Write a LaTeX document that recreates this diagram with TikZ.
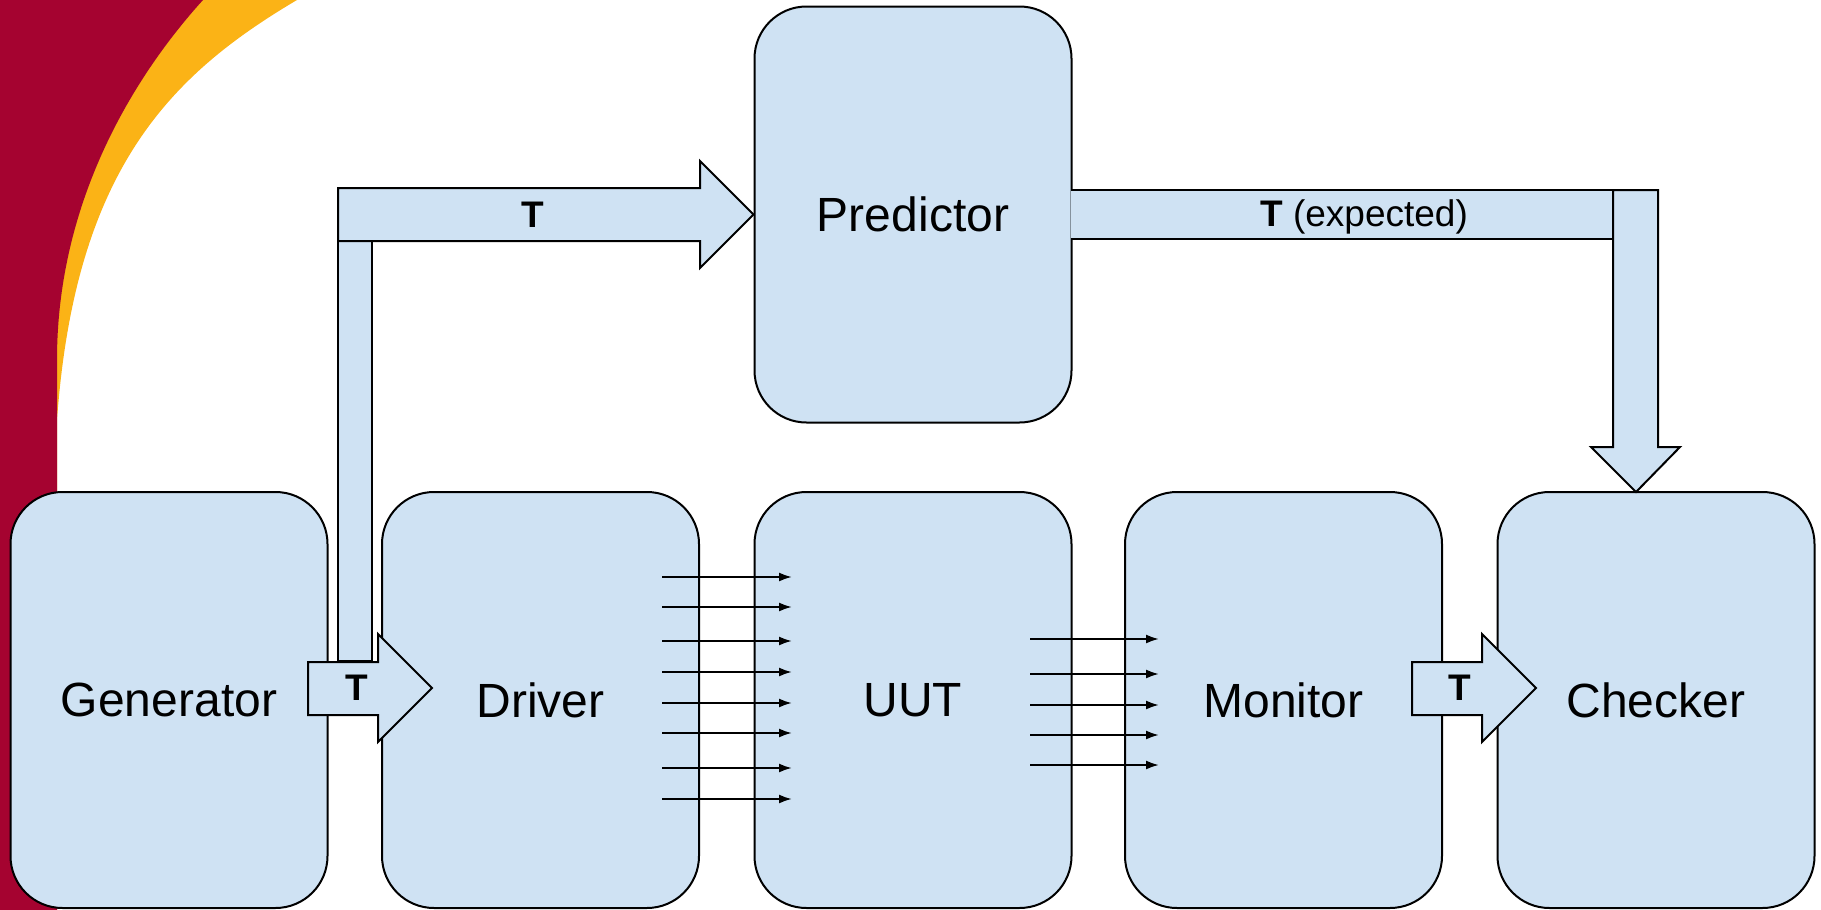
\documentclass[tikz,border=0pt]{standalone}
\usepackage{fontspec}
\setmainfont{Liberation Sans}
\usetikzlibrary{arrows.meta}
\definecolor{bluefill}{HTML}{CFE2F3}
\definecolor{cardinal}{HTML}{A50330}
\definecolor{gold}{HTML}{FBB316}
\tikzset{
  block/.style={draw=black, line width=1pt, fill=bluefill, rounded corners=26pt,
    minimum width=158.5pt, minimum height=208pt, inner sep=0pt,
    font=\fontsize{24}{28}\selectfont},
  bigarrow/.style={draw=black, line width=1pt, fill=bluefill, line join=miter},
  tlabel/.style={font=\fontsize{18.5}{22}\selectfont\bfseries, inner sep=0pt},
  elabel/.style={font=\fontsize{18.5}{22}\selectfont, inner sep=0pt},
  sig/.style={line width=1pt, -{Latex[length=6.5pt,width=4.5pt]}},
}
\begin{document}
\begin{tikzpicture}[x=0.5pt,y=-0.5pt]
\useasboundingbox (0,0) rectangle (1821,910);
% background decoration
\fill[gold] (0,0) -- (297,0) .. controls (170,75) and (75,170) .. (57,420) -- (57,910) -- (0,910) -- cycle;
\fill[cardinal] (0,0) -- (203,0) .. controls (135,75) and (57,200) .. (57,360) -- (57,910) -- (0,910) -- cycle;
% blocks
\node[block] (pred) at (913,214.5) {Predictor};
\node[block] (gen) at (169,700) {Generator};
\node[block] (drv) at (540.5,700) {Driver};
\node[block] (uut) at (913,700) {UUT};
\node[block] (mon) at (1283.5,700) {Monitor};
\node[block] (chk) at (1656,700) {Checker};
% generator -> predictor thick arrow
\draw[bigarrow] (338,241) rectangle (372,661);
\draw[bigarrow] (338,188) -- (700,188) -- (700,161) -- (pred.west) -- (700,268) -- (700,241) -- (338,241) -- cycle;
\node[tlabel] (t1) at (533,215) {T};
% generator -> driver
\draw[bigarrow] (308,662) -- (378,662) -- (378,634) -- (432,688) -- (378,742) -- (378,715) -- (308,715) -- cycle;
\node[tlabel] (t2) at (357,688) {T};
% monitor -> checker
\draw[bigarrow] (1412,662) -- (1482,662) -- (1482,634) -- (1536,688) -- (1482,742) -- (1482,715) -- (1412,715) -- cycle;
\node[tlabel] (t3) at (1460,688) {T};
% predictor -> checker
\path[fill=bluefill, draw=black, line width=1pt] (1071,190) -- (1613,190) -- (1613,239) -- (1071,239);
\draw[bigarrow] (1613,190) -- (1658,190) -- (1658,447) -- (1680,447) -- (1636,492) -- (1591,447) -- (1613,447) -- cycle;
\node[elabel] (t4) at (1364,217) {\textbf{T} (expected)};
% driver -> UUT signals
\foreach \yy in {577,607,641,672,703,733,768,799}
  \draw[sig] (662,\yy) -- (792,\yy);
% UUT -> monitor signals
\foreach \yy in {639,674,705,735,765}
  \draw[sig] (1030,\yy) -- (1159,\yy);
\end{tikzpicture}
\end{document}
